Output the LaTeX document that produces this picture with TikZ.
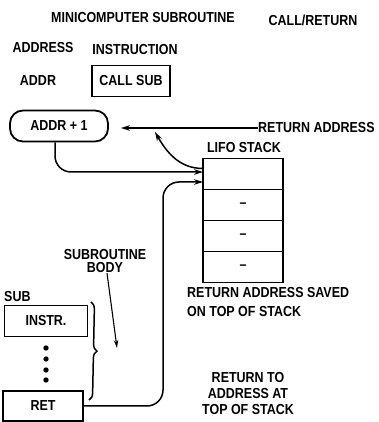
\documentclass[tikz,border=0pt]{standalone}
\usepackage{fontspec}
\setmainfont{Liberation Sans}[FakeStretch=0.86]
\usetikzlibrary{arrows.meta, positioning, decorations.pathreplacing}

\begin{document}
\begin{tikzpicture}[
			x=1pt, y=1pt,
			label/.style={font=\fontsize{14.5}{17}\selectfont\bfseries, inner sep=0pt},
			instr/.style={rectangle, draw=black, line width=1.8pt, minimum height=31pt, font=\fontsize{14.5}{17}\selectfont\bfseries},
			cell/.style={rectangle, draw=black, line width=1.8pt, minimum width=80pt, minimum height=31pt, outer sep=0pt, font=\fontsize{14.5}{17}\selectfont\bfseries},
			arrow/.style={-{Stealth[length=9pt, width=5.5pt]}, line width=1.5pt}
			]
			\useasboundingbox (0,0) rectangle (379,422);
			
			\node[label] (title) at (143,404) {MINICOMPUTER SUBROUTINE};
			\node[label] (callret) at (313,402) {CALL/RETURN};
			\node[label] (addrhead) at (43,374) {ADDRESS};
			\node[label] (instrhead) at (135,372) {INSTRUCTION};
			
			\node[label] (addr) at (38,341) {ADDR};
			\node[instr, minimum width=78pt] (call) at (131,341) {CALL SUB};
			\node[instr, minimum width=98pt, rounded corners=13pt] (next) at (59,296) {ADDR + 1};
			\node[label, anchor=west] (retaddr) at (258,294) {RETURN ADDRESS};
			
			% stack
			\node[label] (lifo) at (244,274) {LIFO STACK};
			\node[cell] (s1) at (243,248) {};
			\node[cell, below=0pt of s1] (s2) {--};
			\node[cell, below=0pt of s2] (s3) {--};
			\node[cell, below=0pt of s3] (s4) {--};
			\node[label, anchor=west, align=left, font=\fontsize{14.5}{19}\selectfont\bfseries] (saved) at (187,120) {RETURN ADDRESS SAVED\\ON TOP OF STACK};
			
			% subroutine
			\node[label, anchor=west] (sub) at (4,125) {SUB};
			\node[instr, minimum width=83pt] (body1) at (46,101) {INSTR.};
			\foreach \y in {74,63,52,42}
				\fill (46,\y) circle (2.7pt);
			\node[instr, minimum width=80pt, minimum height=30pt] (ret) at (43,16) {RET};
			\node[label, align=center, font=\fontsize{14.5}{13.5}\selectfont\bfseries] (bodylbl) at (105,161) {SUBROUTINE\\BODY};
			\node[label, align=center, font=\fontsize{14.5}{16}\selectfont\bfseries] (retto) at (248,28) {RETURN TO\\ADDRESS AT\\TOP OF STACK};
			\coordinate (bodytip) at (117,74);
			\coordinate (rettip) at (155,290);
			
			\draw[line width=1.5pt, decorate, decoration={brace, amplitude=7pt}] (91,120) -- (89,22);
			\draw[-{Stealth[length=8pt, width=4.5pt]}, line width=1.1pt] ([xshift=2pt]bodylbl.south) -- (bodytip);
			
			\draw[arrow, shorten >=12pt] (retaddr.west) -- (next.east |- retaddr.west);
			\draw[arrow] ([yshift=-10pt]s1.north west) to[out=180, in=-60] (rettip);
			\draw[arrow, rounded corners=16pt] ([xshift=-4pt]next.south) |- ([yshift=2pt]s1.west);
			\draw[arrow, rounded corners=16pt] (ret.east) -| ([xshift=-40pt, yshift=-8pt]s1.west) -- ([yshift=-8pt]s1.west);
		\end{tikzpicture}
\end{document}
